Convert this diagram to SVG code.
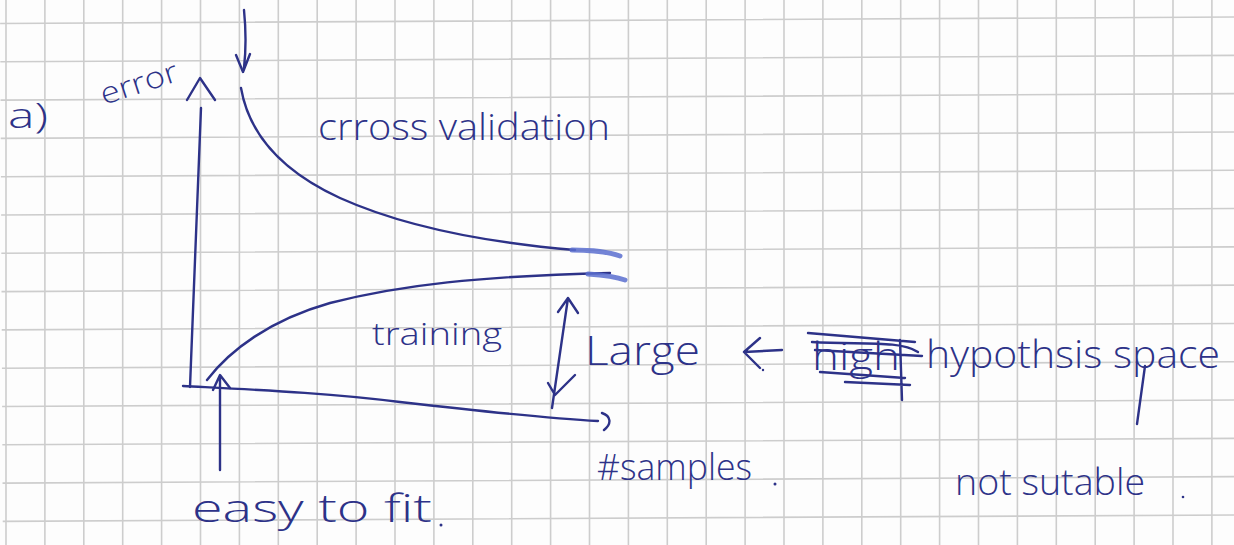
<svg xmlns="http://www.w3.org/2000/svg" width="1234" height="545" viewBox="0 0 1234 545">
<defs>
<style>
.grid{stroke:#cdcdcd;stroke-width:1.6;fill:none}
.ink{stroke:#2d3288;stroke-width:2.4;fill:none;stroke-linecap:round;stroke-linejoin:round}
.smudge{stroke:#5b6fcf;stroke-width:5;fill:none;stroke-linecap:round;opacity:0.85}
.t{font-family:"Open Sans","DejaVu Sans",sans-serif;font-weight:300;fill:#2d3288}
</style>
</defs>
<rect width="1234" height="545" fill="#fdfdfd"/>
<g id="grid" class="grid">
<path d="M6,0V545M44.9,0V545M83.8,0V545M122.7,0V545M161.6,0V545M200.5,0V545M239.4,0V545M278.3,0V545M317.2,0V545M356.1,0V545M395,0V545M433.9,0V545M472.8,0V545M511.7,0V545M550.6,0V545M589.5,0V545M628.4,0V545M667.3,0V545M706.2,0V545M745.1,0V545M784,0V545M822.9,0V545M861.8,0V545M900.7,0V545M939.6,0V545M978.5,0V545M1017.4,0V545M1056.3,0V545M1095.2,0V545M1134.1,0V545M1173,0V545M1211.9,0V545"/>
<path transform="translate(0,1.5) rotate(-0.3)" d="M0,22H1240M0,60.3H1240M0,98.6H1240M0,136.9H1240M0,175.2H1240M0,213.5H1240M0,251.8H1240M0,290.1H1240M0,328.4H1240M0,366.7H1240M0,405H1240M0,443.3H1240M0,481.6H1240M0,519.9H1240"/>
</g>
<g id="label-a"><text class="t" x="8" y="128" font-size="34" textLength="40" lengthAdjust="spacingAndGlyphs">a)</text></g>
<g id="label-error"><text class="t" x="0" y="0" font-size="30" textLength="80" lengthAdjust="spacingAndGlyphs" transform="translate(104,105) rotate(-18)">error</text></g>
<g id="curve-cv">
<path class="ink" d="M241,88 C250,140 290,175 340,198 C400,225 480,242 575,250"/>
<path class="smudge" d="M572,250 C592,250 606,251 620,256"/>
</g>
<g id="label-cv"><text class="t" x="318" y="140" font-size="36" textLength="292" lengthAdjust="spacingAndGlyphs">crross validation</text></g>
<g id="curve-train">
<path class="ink" d="M207,380 C230,350 270,320 330,303 C400,285 480,276 610,273"/>
<path class="smudge" d="M588,274 C602,275 614,276 625,280"/>
</g>
<g id="label-train"><text class="t" x="372" y="345" font-size="32" textLength="130" lengthAdjust="spacingAndGlyphs">training</text></g>
<g id="label-large"><text class="t" x="585" y="365" font-size="40" textLength="115" lengthAdjust="spacingAndGlyphs">Large</text></g>
<g id="crossed-out">
<text class="t" x="812" y="370" font-size="38" textLength="88" lengthAdjust="spacingAndGlyphs">high</text>
<path class="ink" d="M808,333 L915,342 M812,342 C860,345 900,340 918,352 M815,350 L922,356 M820,372 L905,378 M845,382 L910,385 M900,340 L902,400"/>
</g>
<g id="label-hyp"><text class="t" x="926" y="368" font-size="38" textLength="294" lengthAdjust="spacingAndGlyphs">hypothsis space</text></g>
<g id="label-notsuitable"><text class="t" x="955" y="495" font-size="36" textLength="190" lengthAdjust="spacingAndGlyphs">not sutable</text></g>
<g id="label-samples"><text class="t" x="597" y="480" font-size="36" textLength="155" lengthAdjust="spacingAndGlyphs">#samples</text></g>
<g id="label-easy"><text class="t" x="192" y="522" font-size="38" textLength="240" lengthAdjust="spacingAndGlyphs">easy to fit</text></g>
<g id="dots" fill="#2d3288">
<circle cx="441" cy="525" r="1.5"/><circle cx="775" cy="484" r="1.5"/><circle cx="1183" cy="497" r="1.3"/><circle cx="763" cy="370" r="1.2"/>
</g>
<g id="connectors" class="ink">
<path d="M201,108 L190,387 M187,100 L200,78 L215,100"/>
<path d="M183,386 C260,390 330,393 400,402 C470,410 540,418 598,421 M602,413 C611,416 612,424 604,430"/>
<path d="M244,10 C246,30 246,50 244,68 M236,55 L243,72 L250,54"/>
<path d="M220,470 L220,378 M213,390 L220,375 L230,388"/>
<path d="M568,298 L552,408 M558,312 L568,298 L578,313 M548,383 L555,395 L575,375"/>
<path d="M744,352 L782,350 M760,338 L744,352 L760,368"/>
<path d="M1145,366 L1137,424"/>
</g>
</svg>
